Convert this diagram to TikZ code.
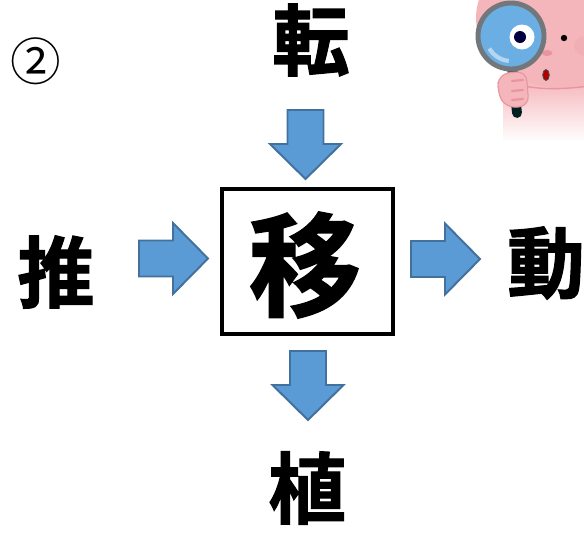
\documentclass[tikz,border=0pt]{standalone}
\usepackage{fontspec}
\usepackage{tikz}
\usetikzlibrary{positioning,calc}
\newfontfamily\jpheavy{Noto Sans CJK JP}[UprightFont=* Bold, FakeBold=1.6]
\newfontfamily\jpplain{Noto Sans CJK JP}

\definecolor{arrowblue}{HTML}{5B9BD5}
\definecolor{arrowedge}{HTML}{41719C}
\definecolor{skin}{HTML}{F5B6BB}
\definecolor{skinline}{HTML}{E8959F}
\definecolor{lensblue}{HTML}{6AAEE4}
\definecolor{ringgray}{HTML}{72777C}

\tikzset{
  kanji/.style={font=\jpheavy\fontsize{55}{60}\selectfont, inner sep=0pt},
  arrowfill/.style={fill=arrowblue, draw=arrowedge, line width=1.4pt, line join=miter},
  pics/blockarrow/.style={code={
    \draw[arrowfill] (0,-18) -- (34,-18) -- (34,-35.5) -- (69,0)
      -- (34,35.5) -- (34,18) -- (0,18) -- cycle;}}
}

\begin{document}
\begin{tikzpicture}[x=0.025cm,y=-0.025cm]
  \useasboundingbox (0,0) rectangle (584,533);

  % Character peeking through the magnifier
  \begin{scope}
    \clip (430,0) rectangle (584,142);
    % body, fading out downward
    \shade[top color=skin, bottom color=white] (503,80) rectangle (590,142);
    % head
    \fill[skin] (562,18) ellipse (86 and 70);
    \draw[skinline, line width=1pt] (524,86) .. controls (545,90) and (565,89) .. (590,86);
    % cheek, eye, nose, mouth
    \fill[skinline!80, opacity=0.6] (586,46) ellipse (12 and 10);
    \fill[black] (564,38) circle (3.2);
    \fill[skinline] (547,53) ellipse (5.5 and 3);
    \draw[black!70, fill=red!70!black, line width=0.6pt] (546,75) ellipse (3.3 and 5.5);
    % handle, then the hand wrapped round it
    \draw[line width=7pt, ringgray!70!black] (512,66) -- (516,104);
    \draw[line width=7pt, black!75!teal, line cap=round] (516,104) -- (517,113);
    \draw[fill=skin, draw=skinline, line width=0.8pt, rounded corners=7]
      (499,74) -- (526,71) -- (529,106) -- (506,108) -- (497,92) -- cycle;
    \foreach \fy in {81,91,100}
      \draw[skinline, line width=1.6pt, line cap=round] (512,\fy) -- (523,\fy-1);
    % lens
    \fill[lensblue] (511,36) circle (32);
    \draw[white, opacity=0.5, line width=3pt] (511,36) ++(150:25) arc (150:95:25);
    \fill[white] (522,37) circle (12.5);
    \fill[black!75!blue] (520,37) circle (6);
    \draw[ringgray, line width=3.5pt] (511,36) circle (33);
  \end{scope}

  % circled number
  \node[font=\jpplain\fontsize{36}{38}\selectfont, inner sep=0pt] (num) at (36,61) {②};

  % centre box
  \node[draw, line width=2.2pt, minimum width=4.275cm, minimum height=3.625cm,
        inner sep=0pt] (box) at (307.5,261.5) {};
  \node[kanji, font=\jpheavy\fontsize{80}{84}\selectfont] (iten) at (305,265) {移};

  % surrounding characters
  \node[kanji] (ten)  at (311,40)  {転};
  \node[kanji] (sui)  at (56,272)  {推};
  \node[kanji] (dou)  at (546,263) {動};
  \node[kanji] (shoku) at (307,488) {植};

  % block arrows
  \pic at (139,258.5) {blockarrow};
  \pic at (411,259)   {blockarrow};
  \pic[rotate=-90] at (305.5,110) {blockarrow};
  \pic[rotate=-90] at (308,351)   {blockarrow};
\end{tikzpicture}
\end{document}
